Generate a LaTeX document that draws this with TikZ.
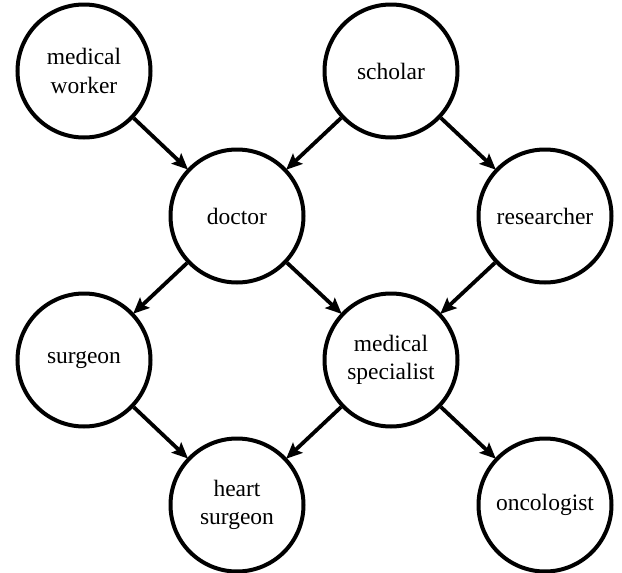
\documentclass[tikz,border=0pt]{standalone}
\usepackage{fontspec}
\setmainfont{Liberation Serif}
\usetikzlibrary{arrows.meta}
\begin{document}
\begin{tikzpicture}[x=1pt,y=1pt,
  concept/.style={circle,draw=black,line width=4pt,minimum size=133pt,inner sep=0pt,
    align=center,font=\fontsize{23.5}{28.5}\selectfont},
  link/.style={line width=3.8pt,-{Stealth[length=16pt,width=14pt,inset=3pt]},shorten >=-1pt}]
\useasboundingbox (0,0) rectangle (622,-573);
\node[concept] (mw) at (84,-71) {medical\\worker};
\node[concept] (sc) at (391,-71) {scholar};
\node[concept] (doc) at (237,-216) {doctor};
\node[concept] (res) at (545,-216) {researcher};
\node[concept] (sur) at (84,-360) {surgeon};
\node[concept] (ms) at (391,-360) {medical\\specialist};
\node[concept] (hs) at (237,-505) {heart\\surgeon};
\node[concept] (onc) at (545,-505) {oncologist};
\draw[link] (mw) -- (doc);
\draw[link] (sc) -- (doc);
\draw[link] (sc) -- (res);
\draw[link] (doc) -- (sur);
\draw[link] (doc) -- (ms);
\draw[link] (res) -- (ms);
\draw[link] (sur) -- (hs);
\draw[link] (ms) -- (hs);
\draw[link] (ms) -- (onc);
\end{tikzpicture}
\end{document}
